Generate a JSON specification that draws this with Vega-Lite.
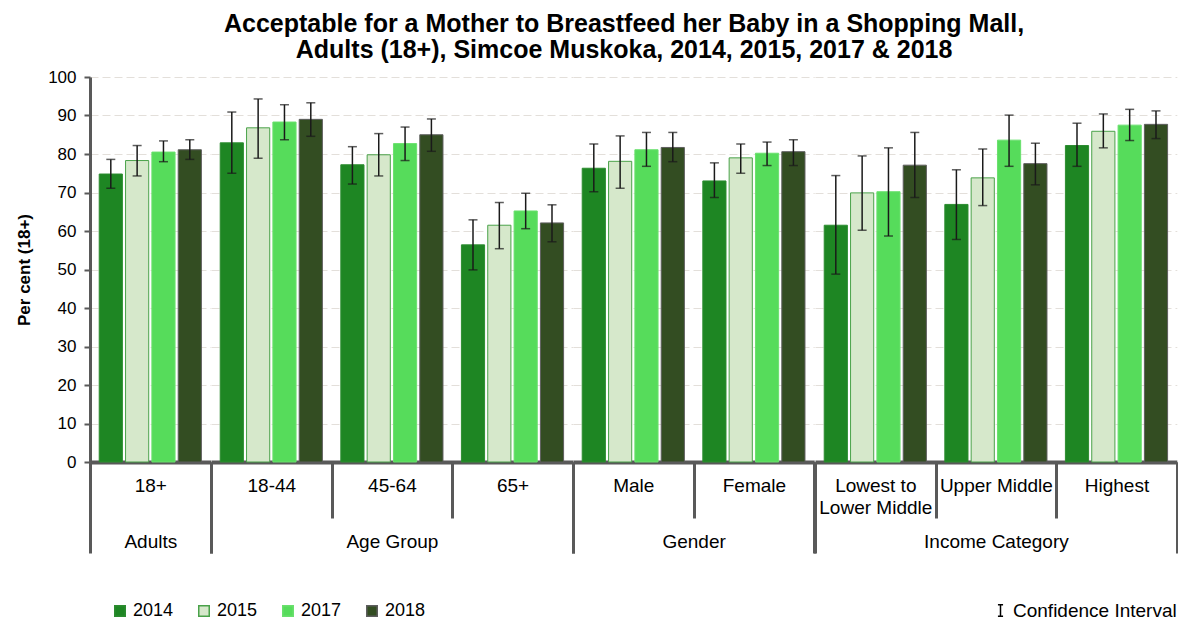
{
  "$schema": "https://vega.github.io/schema/vega-lite/v6.json",
  "padding": {"left": 15, "top": 12, "right": 0, "bottom": 0},
  "config": {"font": "Liberation Sans", "view": {"stroke": null}, "axisY": {"tickCount": 11, "gridColor": "#e3dfda", "gridDash": [8, 4], "gridWidth": 1}},
  "title": {
    "text": ["Acceptable for a Mother to Breastfeed her Baby in a Shopping Mall,", "Adults (18+), Simcoe Muskoka, 2014, 2015, 2017 & 2018"],
    "font": "Liberation Sans", "fontSize": 25, "fontWeight": "bold", "color": "#000", "lineHeight": 26,
    "anchor": "middle", "frame": "bounds", "dx": 27, "offset": 5
  },
  "data": {"values": [
    {"grp": "Adults", "sub": "18+", "year": "2014", "v": 74.8, "lo": 71.1, "hi": 78.6},
    {"grp": "Adults", "sub": "18+", "year": "2015", "v": 78.3, "lo": 74.3, "hi": 82.2},
    {"grp": "Adults", "sub": "18+", "year": "2017", "v": 80.5, "lo": 78.0, "hi": 83.4},
    {"grp": "Adults", "sub": "18+", "year": "2018", "v": 81.1, "lo": 78.6, "hi": 83.7},
    {"grp": "Age Group", "sub": "18-44", "year": "2014", "v": 82.9, "lo": 75.0, "hi": 90.9},
    {"grp": "Age Group", "sub": "18-44", "year": "2015", "v": 86.8, "lo": 78.9, "hi": 94.3},
    {"grp": "Age Group", "sub": "18-44", "year": "2017", "v": 88.3, "lo": 83.7, "hi": 92.8},
    {"grp": "Age Group", "sub": "18-44", "year": "2018", "v": 89.0, "lo": 84.6, "hi": 93.3},
    {"grp": "Age Group", "sub": "45-64", "year": "2014", "v": 77.2, "lo": 72.2, "hi": 81.9},
    {"grp": "Age Group", "sub": "45-64", "year": "2015", "v": 79.8, "lo": 74.3, "hi": 85.3},
    {"grp": "Age Group", "sub": "45-64", "year": "2017", "v": 82.7, "lo": 78.3, "hi": 87.0},
    {"grp": "Age Group", "sub": "45-64", "year": "2018", "v": 85.0, "lo": 80.7, "hi": 89.1},
    {"grp": "Age Group", "sub": "65+", "year": "2014", "v": 56.4, "lo": 49.9, "hi": 62.9},
    {"grp": "Age Group", "sub": "65+", "year": "2015", "v": 61.5, "lo": 55.4, "hi": 67.4},
    {"grp": "Age Group", "sub": "65+", "year": "2017", "v": 65.2, "lo": 60.6, "hi": 69.8},
    {"grp": "Age Group", "sub": "65+", "year": "2018", "v": 62.1, "lo": 57.2, "hi": 66.8},
    {"grp": "Gender", "sub": "Male", "year": "2014", "v": 76.3, "lo": 70.2, "hi": 82.6},
    {"grp": "Gender", "sub": "Male", "year": "2015", "v": 78.1, "lo": 71.1, "hi": 84.7},
    {"grp": "Gender", "sub": "Male", "year": "2017", "v": 81.1, "lo": 76.8, "hi": 85.6},
    {"grp": "Gender", "sub": "Male", "year": "2018", "v": 81.7, "lo": 78.0, "hi": 85.6},
    {"grp": "Gender", "sub": "Female", "year": "2014", "v": 73.0, "lo": 68.7, "hi": 77.7},
    {"grp": "Gender", "sub": "Female", "year": "2015", "v": 79.0, "lo": 75.0, "hi": 82.6},
    {"grp": "Gender", "sub": "Female", "year": "2017", "v": 80.2, "lo": 77.0, "hi": 83.1},
    {"grp": "Gender", "sub": "Female", "year": "2018", "v": 80.6, "lo": 77.0, "hi": 83.7},
    {"grp": "Income Category", "sub": "Lowest to Lower Middle", "year": "2014", "v": 61.5, "lo": 48.8, "hi": 74.4},
    {"grp": "Income Category", "sub": "Lowest to Lower Middle", "year": "2015", "v": 69.9, "lo": 60.2, "hi": 79.5},
    {"grp": "Income Category", "sub": "Lowest to Lower Middle", "year": "2017", "v": 70.2, "lo": 58.7, "hi": 81.6},
    {"grp": "Income Category", "sub": "Lowest to Lower Middle", "year": "2018", "v": 77.1, "lo": 68.7, "hi": 85.6},
    {"grp": "Income Category", "sub": "Upper Middle", "year": "2014", "v": 66.9, "lo": 57.8, "hi": 75.9},
    {"grp": "Income Category", "sub": "Upper Middle", "year": "2015", "v": 73.8, "lo": 66.6, "hi": 81.3},
    {"grp": "Income Category", "sub": "Upper Middle", "year": "2017", "v": 83.6, "lo": 76.8, "hi": 90.1},
    {"grp": "Income Category", "sub": "Upper Middle", "year": "2018", "v": 77.5, "lo": 72.0, "hi": 82.8},
    {"grp": "Income Category", "sub": "Highest", "year": "2014", "v": 82.2, "lo": 76.8, "hi": 88.0},
    {"grp": "Income Category", "sub": "Highest", "year": "2015", "v": 85.9, "lo": 81.6, "hi": 90.4},
    {"grp": "Income Category", "sub": "Highest", "year": "2017", "v": 87.5, "lo": 83.5, "hi": 91.6},
    {"grp": "Income Category", "sub": "Highest", "year": "2018", "v": 87.7, "lo": 84.0, "hi": 91.2}
  ]},
  "spacing": 0,
  "bounds": "flush",
  "hconcat": [
    {
      "width": 120.6, "height": 385,
      "transform": [{"filter": {"field": "grp", "equal": "Adults"}}],
      "resolve": {"scale": {"x": "independent"}, "axis": {"x": "independent"}},
      "layer": [
        {
          "encoding": {
            "x": {"field": "sub", "type": "nominal", "sort": null, "scale": {"paddingInner": 0, "paddingOuter": 0},
              "axis": {"title": null, "orient": "bottom", "labelAngle": 0, "tickBand": "extent", "tickSize": 56, "tickWidth": 3, "tickColor": "#595959", "domainWidth": 4, "domainColor": "#595959", "labelPadding": -42, "labelFontSize": 19, "labelFont": "Liberation Sans", "labelColor": "#000", "labelLimit": 300, "labelLineHeight": 22, "labelExpr": "datum.label == 'Lowest to Lower Middle' ? ['Lowest to', 'Lower Middle'] : datum.label", "grid": false}},
            "xOffset": {"field": "year", "type": "nominal", "scale": {"paddingInner": 0.12, "paddingOuter": 0.35}},
            "y": {"field": "v", "type": "quantitative", "scale": {"domain": [0, 100], "nice": false},
              "axis": {"title": "Per cent (18+)", "titleFont": "Liberation Sans", "titleFontSize": 17, "titleFontWeight": "bold", "titleColor": "#000", "titlePadding": 14, "labelFont": "Liberation Sans", "labelFontSize": 17, "labelColor": "#000", "labelPadding": 8, "tickSize": 6, "tickWidth": 2, "tickColor": "#595959", "domainWidth": 3, "domainColor": "#595959", "values": [0, 10, 20, 30, 40, 50, 60, 70, 80, 90, 100], "tickCount": 11, "grid": true}}
          },
          "layer": [
            {"mark": {"type": "bar", "strokeWidth": 1},
              "encoding": {
                "color": {"field": "year", "type": "nominal", "scale": {"range": ["#1e8623", "#d6e8cb", "#56dc5b", "#334d22"]},
                  "legend": {"orient": "none", "legendX": 21, "legendY": 525, "direction": "horizontal", "columns": 4, "title": null, "symbolType": "square", "symbolSize": 110, "symbolStrokeWidth": 1.5, "labelFontSize": 18, "labelColor": "#000", "labelOffset": 4, "columnPadding": 21, "padding": 0}},
                "stroke": {"field": "year", "type": "nominal", "scale": {"range": ["#2c8c30", "#4aa24a", "#6ae06e", "#5e5e5e"]},
                  "legend": {"orient": "none", "legendX": 21, "legendY": 525, "direction": "horizontal", "columns": 4, "title": null, "symbolType": "square", "symbolSize": 110, "symbolStrokeWidth": 1.5, "labelFontSize": 18, "labelColor": "#000", "labelOffset": 4, "columnPadding": 21, "padding": 0}}
              }},
            {"mark": {"type": "rule", "color": "#1a1a1a", "strokeWidth": 1.5},
              "encoding": {"y": {"field": "lo", "type": "quantitative"}, "y2": {"field": "hi"},
                "strokeDash": {"datum": "Confidence Interval", "type": "nominal", "scale": {"range": [[1, 0]]},
                  "legend": {"orient": "none", "legendX": 901, "legendY": 524, "title": null, "symbolType": "M-0.45,-1H0.45M0,-1V1M-0.45,1H0.45", "symbolStrokeColor": "#000", "symbolStrokeWidth": 1.5, "symbolSize": 130, "labelFontSize": 19, "labelLimit": 300, "labelColor": "#000", "labelOffset": 3, "padding": 0}}}},
            {"mark": {"type": "tick", "orient": "horizontal", "size": 9, "thickness": 1.5, "color": "#1a1a1a"},
              "encoding": {"y": {"field": "lo", "type": "quantitative"}}},
            {"mark": {"type": "tick", "orient": "horizontal", "size": 9, "thickness": 1.5, "color": "#1a1a1a"},
              "encoding": {"y": {"field": "hi", "type": "quantitative"}}}
          ]
        },
        {
          "mark": {"type": "point", "opacity": 0},
          "encoding": {
            "x": {"field": "grp", "type": "nominal", "scale": {"type": "band", "paddingInner": 0, "paddingOuter": 0},
              "axis": {"title": null, "orient": "bottom", "labelAngle": 0, "tickBand": "extent", "tickSize": 91, "tickWidth": 3, "tickColor": "#595959", "domain": false, "labelPadding": -21, "labelFontSize": 19, "labelFont": "Liberation Sans", "labelColor": "#000", "grid": false}}
          }
        }
      ]
    },
    {
      "width": 361.8, "height": 385,
      "transform": [{"filter": {"field": "grp", "equal": "Age Group"}}],
      "resolve": {"scale": {"x": "independent"}, "axis": {"x": "independent"}},
      "layer": [
        {
          "encoding": {
            "x": {"field": "sub", "type": "nominal", "sort": null, "scale": {"paddingInner": 0, "paddingOuter": 0},
              "axis": {"title": null, "orient": "bottom", "labelAngle": 0, "tickBand": "extent", "tickSize": 56, "tickWidth": 3, "tickColor": "#595959", "domainWidth": 4, "domainColor": "#595959", "labelPadding": -42, "labelFontSize": 19, "labelFont": "Liberation Sans", "labelColor": "#000", "labelLimit": 300, "labelLineHeight": 22, "grid": false}},
            "xOffset": {"field": "year", "type": "nominal", "scale": {"paddingInner": 0.12, "paddingOuter": 0.35}},
            "y": {"field": "v", "type": "quantitative", "scale": {"domain": [0, 100], "nice": false},
              "axis": {"title": null, "labels": false, "ticks": false, "domain": false, "values": [0, 10, 20, 30, 40, 50, 60, 70, 80, 90, 100], "tickCount": 11, "grid": true}}
          },
          "layer": [
            {"mark": {"type": "bar", "strokeWidth": 1},
              "encoding": {
                "color": {"field": "year", "type": "nominal", "scale": {"range": ["#1e8623", "#d6e8cb", "#56dc5b", "#334d22"]}},
                "stroke": {"field": "year", "type": "nominal", "scale": {"range": ["#2c8c30", "#4aa24a", "#6ae06e", "#5e5e5e"]}}
              }},
            {"mark": {"type": "rule", "color": "#1a1a1a", "strokeWidth": 1.5},
              "encoding": {"y": {"field": "lo", "type": "quantitative"}, "y2": {"field": "hi"}}},
            {"mark": {"type": "tick", "orient": "horizontal", "size": 9, "thickness": 1.5, "color": "#1a1a1a"},
              "encoding": {"y": {"field": "lo", "type": "quantitative"}}},
            {"mark": {"type": "tick", "orient": "horizontal", "size": 9, "thickness": 1.5, "color": "#1a1a1a"},
              "encoding": {"y": {"field": "hi", "type": "quantitative"}}}
          ]
        },
        {
          "mark": {"type": "point", "opacity": 0},
          "encoding": {
            "x": {"field": "grp", "type": "nominal", "scale": {"type": "band", "paddingInner": 0, "paddingOuter": 0},
              "axis": {"title": null, "orient": "bottom", "labelAngle": 0, "tickBand": "extent", "tickSize": 91, "tickWidth": 3, "tickColor": "#595959", "domain": false, "labelPadding": -21, "labelFontSize": 19, "labelFont": "Liberation Sans", "labelColor": "#000", "grid": false}}
          }
        }
      ]
    },
    {
      "width": 241.2, "height": 385,
      "transform": [{"filter": {"field": "grp", "equal": "Gender"}}],
      "resolve": {"scale": {"x": "independent"}, "axis": {"x": "independent"}},
      "layer": [
        {
          "encoding": {
            "x": {"field": "sub", "type": "nominal", "sort": null, "scale": {"paddingInner": 0, "paddingOuter": 0},
              "axis": {"title": null, "orient": "bottom", "labelAngle": 0, "tickBand": "extent", "tickSize": 56, "tickWidth": 3, "tickColor": "#595959", "domainWidth": 4, "domainColor": "#595959", "labelPadding": -42, "labelFontSize": 19, "labelFont": "Liberation Sans", "labelColor": "#000", "labelLimit": 300, "labelLineHeight": 22, "grid": false}},
            "xOffset": {"field": "year", "type": "nominal", "scale": {"paddingInner": 0.12, "paddingOuter": 0.35}},
            "y": {"field": "v", "type": "quantitative", "scale": {"domain": [0, 100], "nice": false},
              "axis": {"title": null, "labels": false, "ticks": false, "domain": false, "values": [0, 10, 20, 30, 40, 50, 60, 70, 80, 90, 100], "tickCount": 11, "grid": true}}
          },
          "layer": [
            {"mark": {"type": "bar", "strokeWidth": 1},
              "encoding": {
                "color": {"field": "year", "type": "nominal", "scale": {"range": ["#1e8623", "#d6e8cb", "#56dc5b", "#334d22"]}},
                "stroke": {"field": "year", "type": "nominal", "scale": {"range": ["#2c8c30", "#4aa24a", "#6ae06e", "#5e5e5e"]}}
              }},
            {"mark": {"type": "rule", "color": "#1a1a1a", "strokeWidth": 1.5},
              "encoding": {"y": {"field": "lo", "type": "quantitative"}, "y2": {"field": "hi"}}},
            {"mark": {"type": "tick", "orient": "horizontal", "size": 9, "thickness": 1.5, "color": "#1a1a1a"},
              "encoding": {"y": {"field": "lo", "type": "quantitative"}}},
            {"mark": {"type": "tick", "orient": "horizontal", "size": 9, "thickness": 1.5, "color": "#1a1a1a"},
              "encoding": {"y": {"field": "hi", "type": "quantitative"}}}
          ]
        },
        {
          "mark": {"type": "point", "opacity": 0},
          "encoding": {
            "x": {"field": "grp", "type": "nominal", "scale": {"type": "band", "paddingInner": 0, "paddingOuter": 0},
              "axis": {"title": null, "orient": "bottom", "labelAngle": 0, "tickBand": "extent", "tickSize": 91, "tickWidth": 3, "tickColor": "#595959", "domain": false, "labelPadding": -21, "labelFontSize": 19, "labelFont": "Liberation Sans", "labelColor": "#000", "grid": false}}
          }
        }
      ]
    },
    {
      "width": 361.8, "height": 385,
      "transform": [{"filter": {"field": "grp", "equal": "Income Category"}}],
      "resolve": {"scale": {"x": "independent"}, "axis": {"x": "independent"}},
      "layer": [
        {
          "encoding": {
            "x": {"field": "sub", "type": "nominal", "sort": null, "scale": {"paddingInner": 0, "paddingOuter": 0},
              "axis": {"title": null, "orient": "bottom", "labelAngle": 0, "tickBand": "extent", "tickSize": 56, "tickWidth": 3, "tickColor": "#595959", "domainWidth": 4, "domainColor": "#595959", "labelPadding": -42, "labelFontSize": 19, "labelFont": "Liberation Sans", "labelColor": "#000", "labelLimit": 300, "labelLineHeight": 22, "labelExpr": "datum.label == 'Lowest to Lower Middle' ? ['Lowest to', 'Lower Middle'] : datum.label", "grid": false}},
            "xOffset": {"field": "year", "type": "nominal", "scale": {"paddingInner": 0.12, "paddingOuter": 0.35}},
            "y": {"field": "v", "type": "quantitative", "scale": {"domain": [0, 100], "nice": false},
              "axis": {"title": null, "labels": false, "ticks": false, "domain": false, "values": [0, 10, 20, 30, 40, 50, 60, 70, 80, 90, 100], "tickCount": 11, "grid": true}}
          },
          "layer": [
            {"mark": {"type": "bar", "strokeWidth": 1},
              "encoding": {
                "color": {"field": "year", "type": "nominal", "scale": {"range": ["#1e8623", "#d6e8cb", "#56dc5b", "#334d22"]}},
                "stroke": {"field": "year", "type": "nominal", "scale": {"range": ["#2c8c30", "#4aa24a", "#6ae06e", "#5e5e5e"]}}
              }},
            {"mark": {"type": "rule", "color": "#1a1a1a", "strokeWidth": 1.5},
              "encoding": {"y": {"field": "lo", "type": "quantitative"}, "y2": {"field": "hi"}}},
            {"mark": {"type": "tick", "orient": "horizontal", "size": 9, "thickness": 1.5, "color": "#1a1a1a"},
              "encoding": {"y": {"field": "lo", "type": "quantitative"}}},
            {"mark": {"type": "tick", "orient": "horizontal", "size": 9, "thickness": 1.5, "color": "#1a1a1a"},
              "encoding": {"y": {"field": "hi", "type": "quantitative"}}}
          ]
        },
        {
          "mark": {"type": "point", "opacity": 0},
          "encoding": {
            "x": {"field": "grp", "type": "nominal", "scale": {"type": "band", "paddingInner": 0, "paddingOuter": 0},
              "axis": {"title": null, "orient": "bottom", "labelAngle": 0, "tickBand": "extent", "tickSize": 91, "tickWidth": 3, "tickColor": "#595959", "domain": false, "labelPadding": -21, "labelFontSize": 19, "labelFont": "Liberation Sans", "labelColor": "#000", "grid": false}}
          }
        }
      ]
    }
  ]
}
